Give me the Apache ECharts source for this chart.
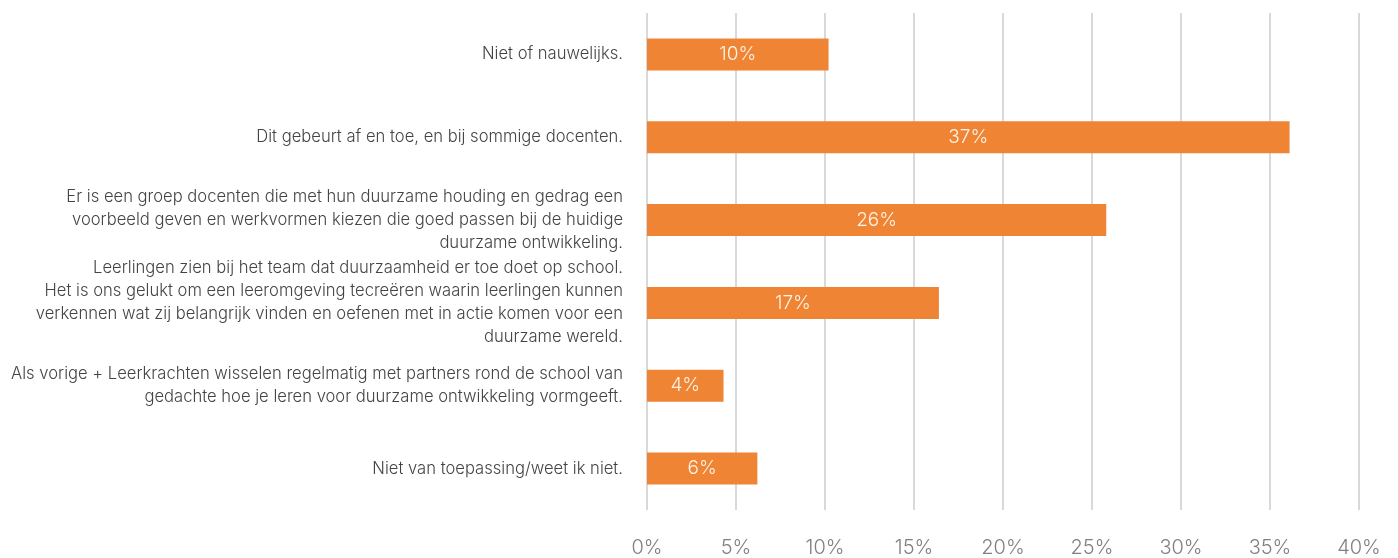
<!DOCTYPE html>
<html><head><meta charset="utf-8">
<script src="https://cdn.jsdelivr.net/npm/echarts@6/dist/echarts.min.js"></script>
<style>html,body{margin:0;padding:0;background:#fff}#c{width:1398px;height:558px}</style>
</head><body><div id="c"></div>
<script>
const categories = [
  "Niet of nauwelijks.",
  "Dit gebeurt af en toe, en bij sommige docenten.",
  "Er is een groep docenten die met hun duurzame houding en gedrag een\nvoorbeeld geven en werkvormen kiezen die goed passen bij de huidige\nduurzame ontwikkeling.",
  "Leerlingen zien bij het team dat duurzaamheid er toe doet op school.\nHet is ons gelukt om een leeromgeving tecreëren waarin leerlingen kunnen\nverkennen wat zij belangrijk vinden en oefenen met in actie komen voor een\nduurzame wereld.",
  "Als vorige + Leerkrachten wisselen regelmatig met partners rond de school van\ngedachte hoe je leren voor duurzame ontwikkeling vormgeeft.",
  "Niet van toepassing/weet ik niet."
];
const values = [10.2, 36.1, 25.8, 16.4, 4.3, 6.2];
const valueLabels = ["10%", "37%", "26%", "17%", "4%", "6%"];
const tickLabels = ["0%", "5%", "10%", "15%", "20%", "25%", "30%", "35%", "40%"];

const chart = echarts.init(document.getElementById('c'));
chart.setOption({
  animation: false,
  grid: {left: 647, right: 39, top: 13, bottom: 48, containLabel: false},
  xAxis: {
    type: 'value', min: 0, max: 40, interval: 5,
    axisLine: {show: false}, axisTick: {show: false},
    splitLine: {show: true, lineStyle: {color: '#d9d9d9', width: 2}},
    axisLabel: {
      margin: 28, color: '#808080', fontSize: 20, fontFamily: 'Inter', fontWeight: 300,
      formatter: v => tickLabels[Math.round(v / 5)]
    }
  },
  yAxis: {
    type: 'category', data: categories, inverse: true,
    axisLine: {show: false}, axisTick: {show: false},
    axisLabel: {
      margin: 24, color: '#444444', fontSize: 16.6, fontFamily: 'Inter', fontWeight: 300,
      lineHeight: 23, align: 'right'
    }
  },
  series: [{
    type: 'bar', data: values, barWidth: 32,
    itemStyle: {color: '#ef8434'},
    label: {
      show: true, position: 'inside', color: '#fdf3e8', fontSize: 19,
      fontFamily: 'Inter', fontWeight: 300,
      formatter: p => valueLabels[p.dataIndex]
    }
  }]
});
</script></body></html>
